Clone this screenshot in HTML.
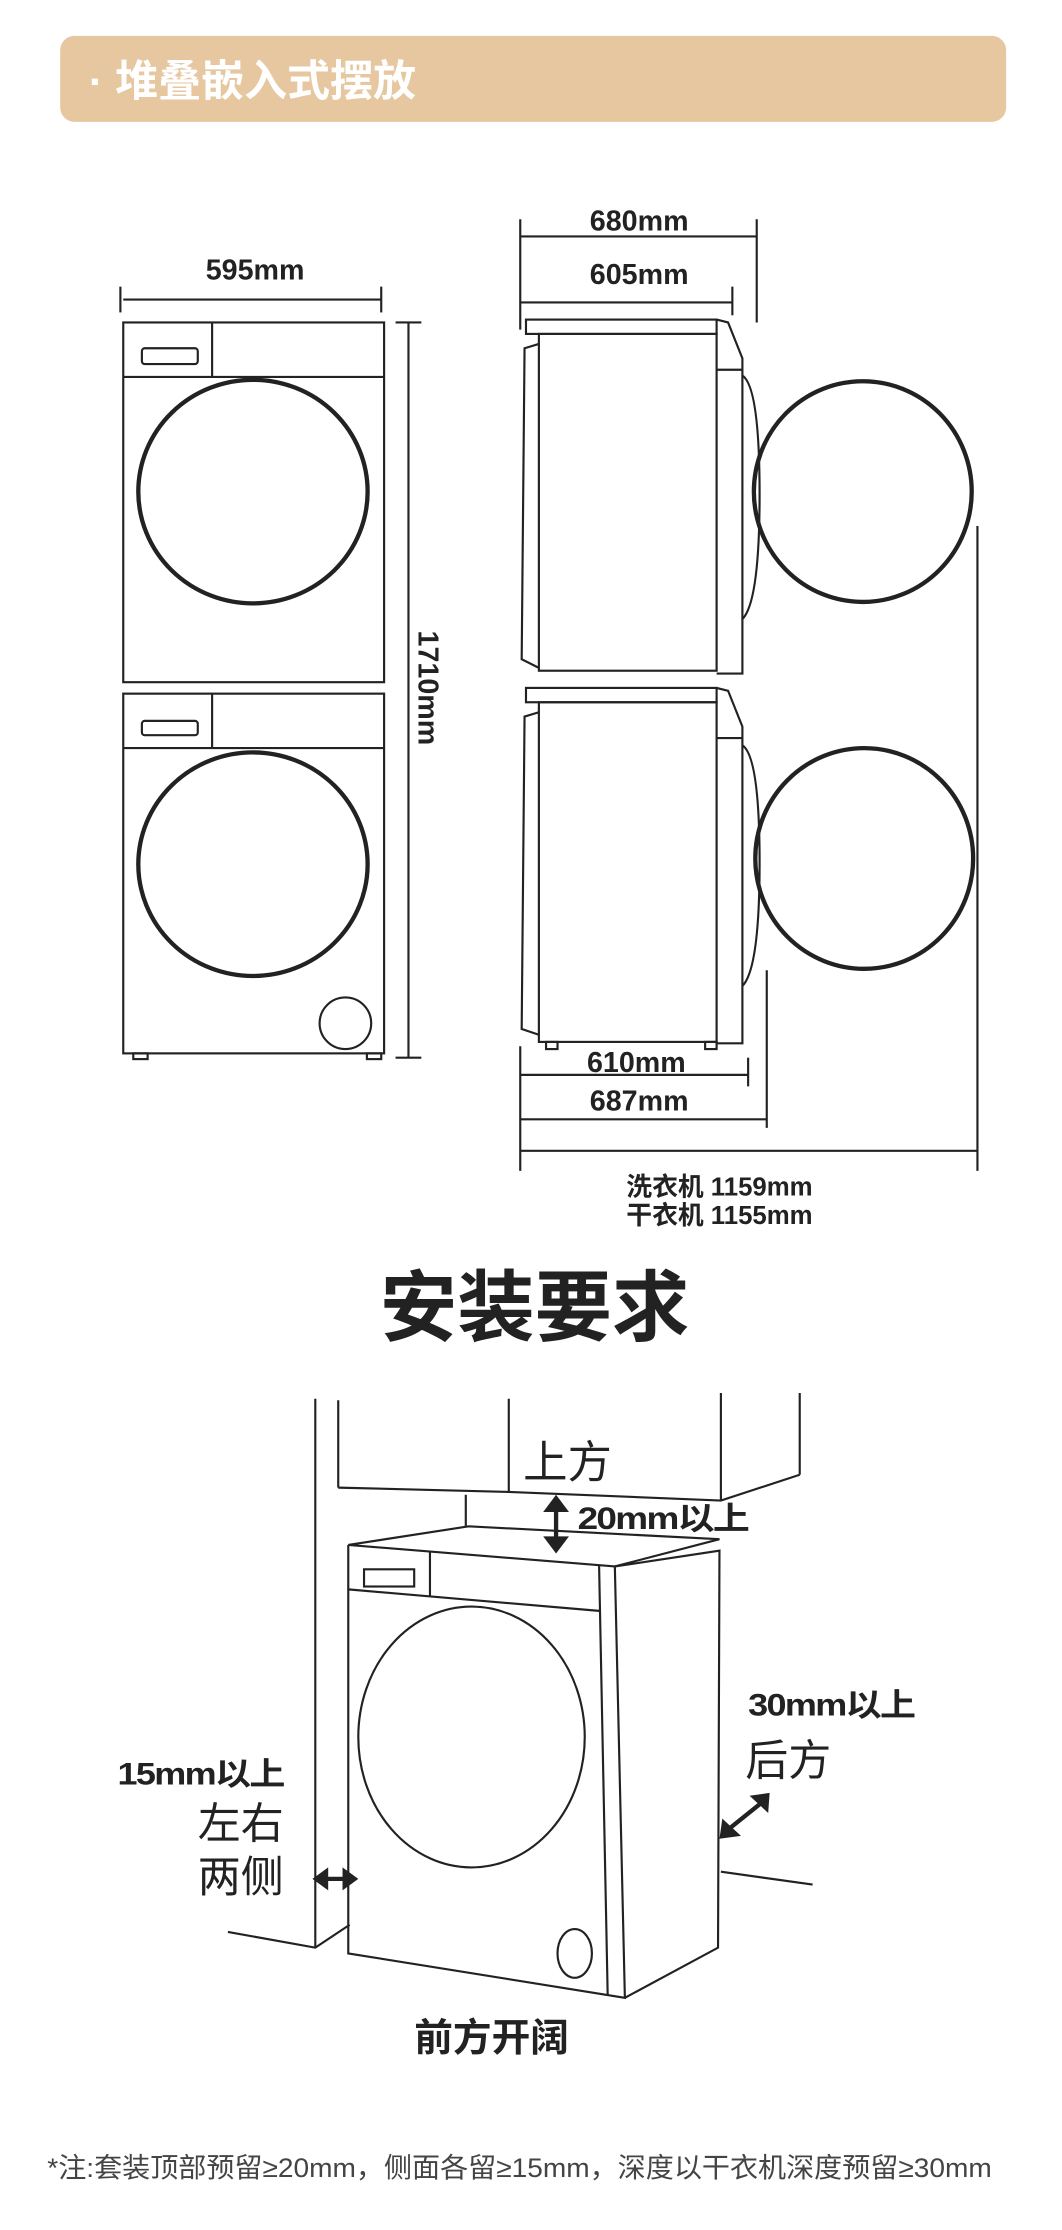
<!DOCTYPE html>
<html><head><meta charset="utf-8"><style>
html,body{margin:0;padding:0;background:#fff;}
svg{display:block;}
text{font-family:"Liberation Sans","Noto Sans CJK SC",sans-serif;fill:#222;}
</style></head><body>
<svg width="1062" height="2230" viewBox="0 0 741 1556" preserveAspectRatio="none" xmlns="http://www.w3.org/2000/svg">
<rect x="42" y="25" width="660" height="60" rx="10" fill="#e6c7a0"/>
<text x="62" y="67" font-size="30" style="fill:#fff" font-weight="bold">·  堆叠嵌入式摆放</text>

<g fill="none" stroke="#222" stroke-width="1.5">
<rect x="86" y="225" width="182" height="251"/>
<line x1="86" y1="263" x2="268" y2="263"/><line x1="148" y1="225" x2="148" y2="263"/>
<rect x="99" y="243" width="39" height="11" rx="2"/>
<ellipse cx="176.5" cy="343" rx="80" ry="78" stroke-width="3"/>
<rect x="86" y="484" width="182" height="251"/>
<line x1="86" y1="522" x2="268" y2="522"/><line x1="148" y1="484" x2="148" y2="522"/>
<rect x="99" y="503" width="39" height="10" rx="2"/>
<ellipse cx="176.5" cy="603" rx="80" ry="78" stroke-width="3"/>
<circle cx="241" cy="714" r="18"/>
<rect x="93" y="735" width="10" height="4"/><rect x="256" y="735" width="10" height="4"/>
<line x1="86" y1="209" x2="266" y2="209"/><line x1="84" y1="200" x2="84" y2="218"/><line x1="266" y1="200" x2="266" y2="218"/>
<line x1="285" y1="225" x2="285" y2="738"/><line x1="276" y1="225" x2="294" y2="225"/><line x1="276" y1="738" x2="294" y2="738"/>

<rect x="367" y="223" width="133" height="10"/>
<rect x="376" y="233" width="124" height="235"/>
<polyline points="500,223 508,225 518,250 518,470 500,470"/>
<line x1="500" y1="258" x2="518" y2="258"/>
<path d="M376 240 L366 243 L364 460 L376 466"/>
<path d="M518 262 Q530 270 530 345 Q530 420 518 432"/>
<ellipse cx="602" cy="343" rx="76" ry="77" stroke-width="3"/>
<rect x="367" y="480" width="133" height="10"/>
<rect x="376" y="490" width="124" height="237"/>
<polyline points="500,480 508,482 518,507 518,728 500,728"/>
<line x1="500" y1="515" x2="518" y2="515"/>
<path d="M376 497 L366 500 L364 718 L376 722"/>
<path d="M518 520 Q530 528 530 602 Q530 676 518 688"/>
<ellipse cx="603" cy="599" rx="76" ry="77" stroke-width="3"/>
<rect x="381" y="727" width="8" height="5"/><rect x="492" y="727" width="8" height="5"/>
<line x1="682" y1="367" x2="682" y2="817"/>
<line x1="363" y1="153" x2="363" y2="230"/>
<line x1="363" y1="165" x2="528" y2="165"/><line x1="528" y1="153" x2="528" y2="225"/>
<line x1="363" y1="211" x2="511" y2="211"/><line x1="511" y1="200" x2="511" y2="220"/>
<line x1="363" y1="730" x2="363" y2="817"/>
<line x1="363" y1="750" x2="522" y2="750"/><line x1="522" y1="738" x2="522" y2="758"/>
<line x1="363" y1="781" x2="535" y2="781"/><line x1="535" y1="677" x2="535" y2="787"/>
<line x1="363" y1="803" x2="682" y2="803"/>

<line x1="220" y1="976" x2="220" y2="1359"/>
<line x1="236" y1="977" x2="236" y2="1038"/>
<line x1="355" y1="976" x2="355" y2="1041"/>
<line x1="503" y1="972" x2="503" y2="1047"/>
<line x1="558" y1="972" x2="558" y2="1029"/>
<polyline points="236,1038 355,1041 503,1047 558,1029"/>
<line x1="325" y1="1043" x2="325" y2="1065"/>
<polygon points="243,1078 327,1065 502,1074 429,1093"/>
<polyline points="429,1093 502,1082 501,1359 436,1394"/>
<polyline points="243,1078 243,1363 436,1394 429,1093"/>
<line x1="243" y1="1109" x2="418" y2="1124"/>
<line x1="300" y1="1083" x2="300" y2="1114"/>
<line x1="418" y1="1092" x2="424" y2="1392"/>
<rect x="254" y="1095" width="35" height="12"/>
<ellipse cx="329" cy="1212" rx="79" ry="91"/>
<ellipse cx="401" cy="1363" rx="12" ry="17"/>
<polyline points="159,1348 220,1359 244,1343"/>
<line x1="503" y1="1306" x2="567" y2="1315"/>
</g>
<g fill="#222" stroke="#222" stroke-width="3">
<line x1="388" y1="1050" x2="388" y2="1077"/>
<polygon points="379,1055 388,1043 397,1055" stroke="none"/>
<polygon points="379,1072 388,1084 397,1072" stroke="none"/>
<line x1="225" y1="1311" x2="243" y2="1311"/>
<polygon points="229,1303 218,1311 229,1319" stroke="none"/>
<polygon points="239,1303 250,1311 239,1319" stroke="none"/>
<line x1="510" y1="1275" x2="530" y2="1259"/>
<polygon points="504,1269 502,1283 517,1281" stroke="none"/>
<polygon points="523,1253 537,1251 536,1265" stroke="none"/>
</g>

<g font-weight="bold" font-size="20">
<text x="178" y="195" text-anchor="middle">595mm</text>
<text x="446" y="161" text-anchor="middle">680mm</text>
<text x="446" y="198" text-anchor="middle">605mm</text>
<text x="444" y="748" text-anchor="middle">610mm</text>
<text x="446" y="775" text-anchor="middle">687mm</text>
<text transform="translate(292,480) rotate(90)" text-anchor="middle">1710mm</text>
</g>
<text x="437" y="834" font-size="18" font-weight="bold">洗衣机 1159mm</text>
<text x="437" y="854" font-size="18" font-weight="bold">干衣机 1155mm</text>
<text x="373" y="931" font-size="54" font-weight="bold" text-anchor="middle">安装要求</text>
<text x="365" y="1031" font-size="31">上方</text>
<text x="403" y="1067" font-size="22" font-weight="bold" letter-spacing="-1" textLength="119" lengthAdjust="spacingAndGlyphs">20mm以上</text>
<text x="522" y="1197" font-size="22" font-weight="bold" letter-spacing="-1" textLength="116" lengthAdjust="spacingAndGlyphs">30mm以上</text>
<text x="520" y="1239" font-size="30">后方</text>
<text x="82" y="1245" font-size="22" font-weight="bold" letter-spacing="-1" textLength="116" lengthAdjust="spacingAndGlyphs">15mm以上</text>
<text x="138" y="1283" font-size="30">左右</text>
<text x="138" y="1320" font-size="30">两侧</text>
<text x="343" y="1431" font-size="27" font-weight="bold" text-anchor="middle">前方开阔</text>
<text x="33" y="1519" font-size="19" style="fill:#444" textLength="659" lengthAdjust="spacingAndGlyphs">*注:套装顶部预留≥20mm，侧面各留≥15mm，深度以干衣机深度预留≥30mm</text>
</svg>
</body></html>
